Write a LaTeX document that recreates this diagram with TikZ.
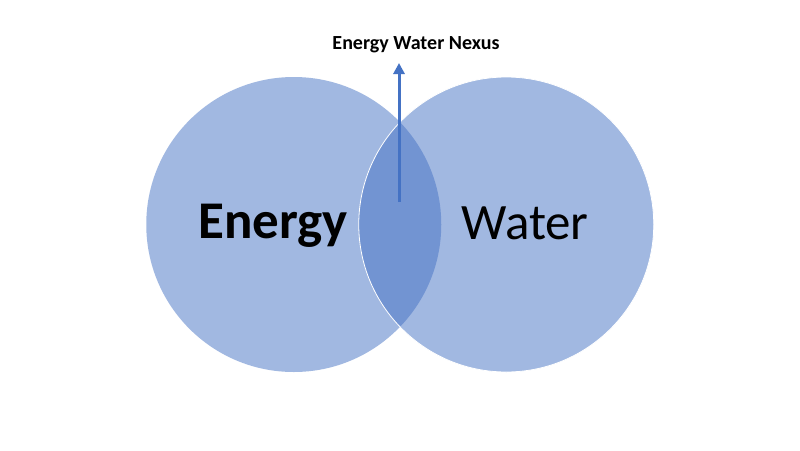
\documentclass[tikz,border=0pt]{standalone}
\usepackage{fontspec}
\setmainfont{Carlito}
\usetikzlibrary{arrows.meta}
\definecolor{vennblue}{HTML}{4472C4}
\begin{document}
\begin{tikzpicture}[x=1pt,y=-1pt,
  venn/.style={fill=vennblue,fill opacity=0.5},
  bigtext/.style={anchor=base,text=black},
  titletext/.style={font=\bfseries\fontsize{20}{24}\selectfont,anchor=base,text=black},
  nexusarrow/.style={draw=vennblue,line width=3pt,-{Triangle[length=11pt,width=11pt]}}]
\useasboundingbox (0,0) rectangle (800,450);
\fill[white] (0,0) rectangle (800,450);
\path[venn] (293.75,224.5) circle[radius=147.5];
\path[venn,draw=white,draw opacity=1,line width=0.8pt] (506.25,224.5) circle[radius=147.5];
\node[bigtext,font=\bfseries\fontsize{53}{60}\selectfont] (energy) at (273,238.5) {Energy};
\node[bigtext,font=\fontsize{51}{60}\selectfont] (water) at (525,239) {Water};
\node[titletext] (nexus) at (416,49.3) {Energy Water Nexus};
\coordinate (tail) at (399,202);
\coordinate (tip) at (399,63);
\draw[nexusarrow] (tail) -- (tip);
\end{tikzpicture}
\end{document}
